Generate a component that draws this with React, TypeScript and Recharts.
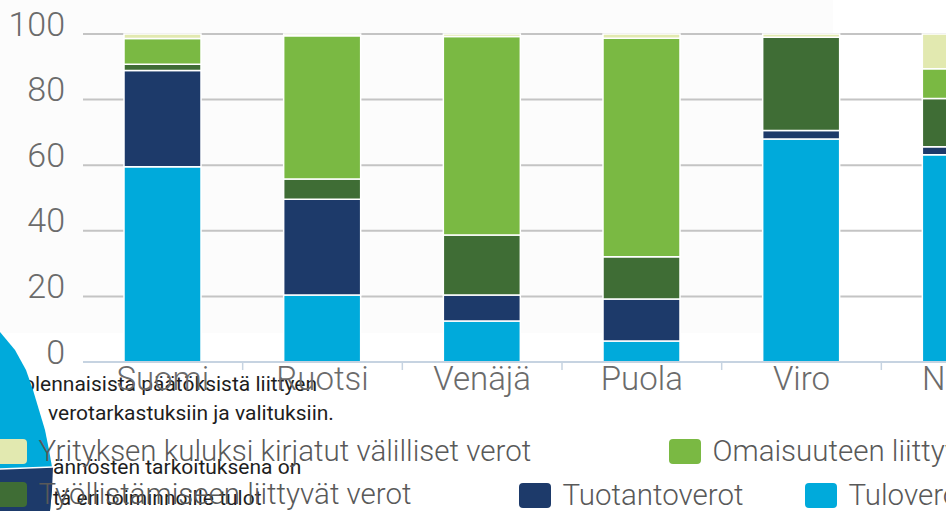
import React from 'react';
import { BarChart, Bar, XAxis, YAxis, CartesianGrid } from 'recharts';

// ---- data ----
const categories = ['Suomi', 'Ruotsi', 'Venäjä', 'Puola', 'Viro', 'Norja'];
const tuloverot = [59.5, 20.4, 12.5, 6.4, 68.0, 63.2];
const tuotantoverot = [29.4, 29.2, 7.9, 12.8, 2.6, 2.4];
const tyollistamiseen = [1.9, 6.2, 18.3, 12.9, 28.4, 14.7];
const omaisuuteen = [7.8, 43.7, 60.5, 66.6, 0, 9.1];
const yrityksen = [1.4, 0.5, 0.8, 1.3, 1.0, 10.6];
const yTicks = [0, 20, 40, 60, 80, 100];

const series = [
  { key: 'tulo', name: 'Tuloverot', color: '#00aadb', values: tuloverot },
  { key: 'tuotanto', name: 'Tuotantoverot', color: '#1d3a6a', values: tuotantoverot },
  { key: 'tyo', name: 'Työllistämiseen liittyvät verot', color: '#3f6d35', values: tyollistamiseen },
  { key: 'omaisuus', name: 'Omaisuuteen liittyvät verot', color: '#7ab943', values: omaisuuteen },
  { key: 'yritys', name: 'Yrityksen kuluksi kirjatut välilliset verot', color: '#e2e9b0', values: yrityksen },
];

const overlayLines = [
  'olennaisista päätöksistä liittyen',
  'verotarkastuksiin ja valituksiin.',
  'ännösten tarkoituksena on',
  'tä eri toiminnoille tulot',
];

const data = categories.map((c, i) => {
  const row: Record<string, any> = { name: c };
  series.forEach((s) => (row[s.key] = s.values[i]));
  return row;
});

// ---- layout / style ----
const FONT = 'Roboto, "Open Sans", sans-serif';
const Y_AXIS_W = 83;
const PLOT_W = 958;
const CHART_W = Y_AXIS_W + PLOT_W;
const CHART_H = 511;
const BAND = PLOT_W / categories.length;

const legendPos: Record<string, { x: number; y: number }> = {
  yritys: { x: -5, y: 439 },
  omaisuus: { x: 669, y: 439 },
  tyo: { x: -5, y: 482 },
  tuotanto: { x: 519, y: 483 },
  tulo: { x: 805, y: 483 },
};

const overlayPos = [
  { x: 23, y: 391 },
  { x: 48, y: 420 },
  { x: 53, y: 474 },
  { x: 53, y: 505 },
];

const YTick = (props: any) => {
  const { x, y, payload } = props;
  return (
    <text
      x={x}
      y={y + 1.5}
      textAnchor="end"
      fontFamily={FONT}
      fontWeight={300}
      fontSize={34}
      fill="#6b6b6b"
    >
      {payload.value}
    </text>
  );
};

const XTick = (props: any) => {
  const { x, y, payload, index } = props;
  return (
    <g>
      {index > 0 && (
        <line x1={x - BAND / 2} y1={y} x2={x - BAND / 2} y2={y + 8} stroke="#c6d3e1" strokeWidth={1.5} />
      )}
      <text
        x={x}
        y={y + 28}
        textAnchor="middle"
        fontFamily={FONT}
        fontWeight={300}
        fontSize={33}
        fill="#6b6b6b"
      >
        {payload.value}
      </text>
    </g>
  );
};

export default function App() {
  return (
    <div
      style={{
        position: 'fixed',
        left: 0,
        top: 0,
        width: 946,
        height: 511,
        overflow: 'hidden',
        background: '#ffffff',
      }}
    >
      {/* faint panel */}
      <div style={{ position: 'absolute', left: 0, top: 0, width: 833, height: 333, background: '#fcfcfc' }} />

      {/* overlapping body text from underlying layer */}
      <svg width={946} height={511} style={{ position: 'absolute', left: 0, top: 0 }}>
        {overlayLines.map((t, i) => (
          <text key={i} x={overlayPos[i].x} y={overlayPos[i].y} fontFamily={FONT} fontSize={21} fill="#1e1e1e">
            {t}
          </text>
        ))}
      </svg>

      {/* decorative circle shape */}
      <svg width={946} height={511} style={{ position: 'absolute', left: 0, top: 0 }}>
        <path
          d="M0,332 L15,350 L26,370 L33,390 L39,410 L45,430 L49,450 L52,467 L52,490 L50,511 L0,511 Z"
          fill="#00aadb"
        />
        <path d="M0,469 L53,467 L52,490 L50,511 L0,511 Z" fill="#1d3a6a" />
        <line x1={0} y1={469} x2={53} y2={467} stroke="#ffffff" strokeWidth={1.5} />
      </svg>

      <div style={{ position: 'absolute', left: 0, top: 0 }}>
        <BarChart
          width={CHART_W}
          height={CHART_H}
          data={data}
          margin={{ top: 34, right: 0, left: 0, bottom: 109 }}
        >
          <CartesianGrid vertical={false} stroke="#c4c4c4" strokeWidth={2} />
          <YAxis
            type="number"
            domain={[0, 100]}
            ticks={yTicks}
            width={Y_AXIS_W}
            axisLine={false}
            tickLine={false}
            tickSize={0}
            tickMargin={18}
            tick={<YTick />}
            interval={0}
          />
          <XAxis
            dataKey="name"
            height={40}
            axisLine={{ stroke: '#c6d3e1', strokeWidth: 2 }}
            tickLine={false}
            tickSize={0}
            tickMargin={0}
            interval={0}
            tick={<XTick />}
          />
          {series.map((s) => (
            <Bar
              key={s.key}
              dataKey={s.key}
              name={s.name}
              stackId="a"
              fill={s.color}
              stroke="#ffffff"
              strokeWidth={1.5}
              barSize={77}
              isAnimationActive={false}
            />
          ))}
        </BarChart>
      </div>

      {/* legend */}
      <svg width={946} height={511} style={{ position: 'absolute', left: 0, top: 0, pointerEvents: 'none' }}>
        {series.map((s) => {
          const p = legendPos[s.key];
          return (
            <g key={s.key}>
              <rect x={p.x} y={p.y} width={32} height={25} rx={4} ry={4} fill={s.color} />
              <text
                x={p.x + 43.5}
                y={p.y + 22}
                fontFamily={FONT}
                fontWeight={300}
                fontSize={29.5}
                fill="#595959"
              >
                {s.name}
              </text>
            </g>
          );
        })}
      </svg>
    </div>
  );
}
